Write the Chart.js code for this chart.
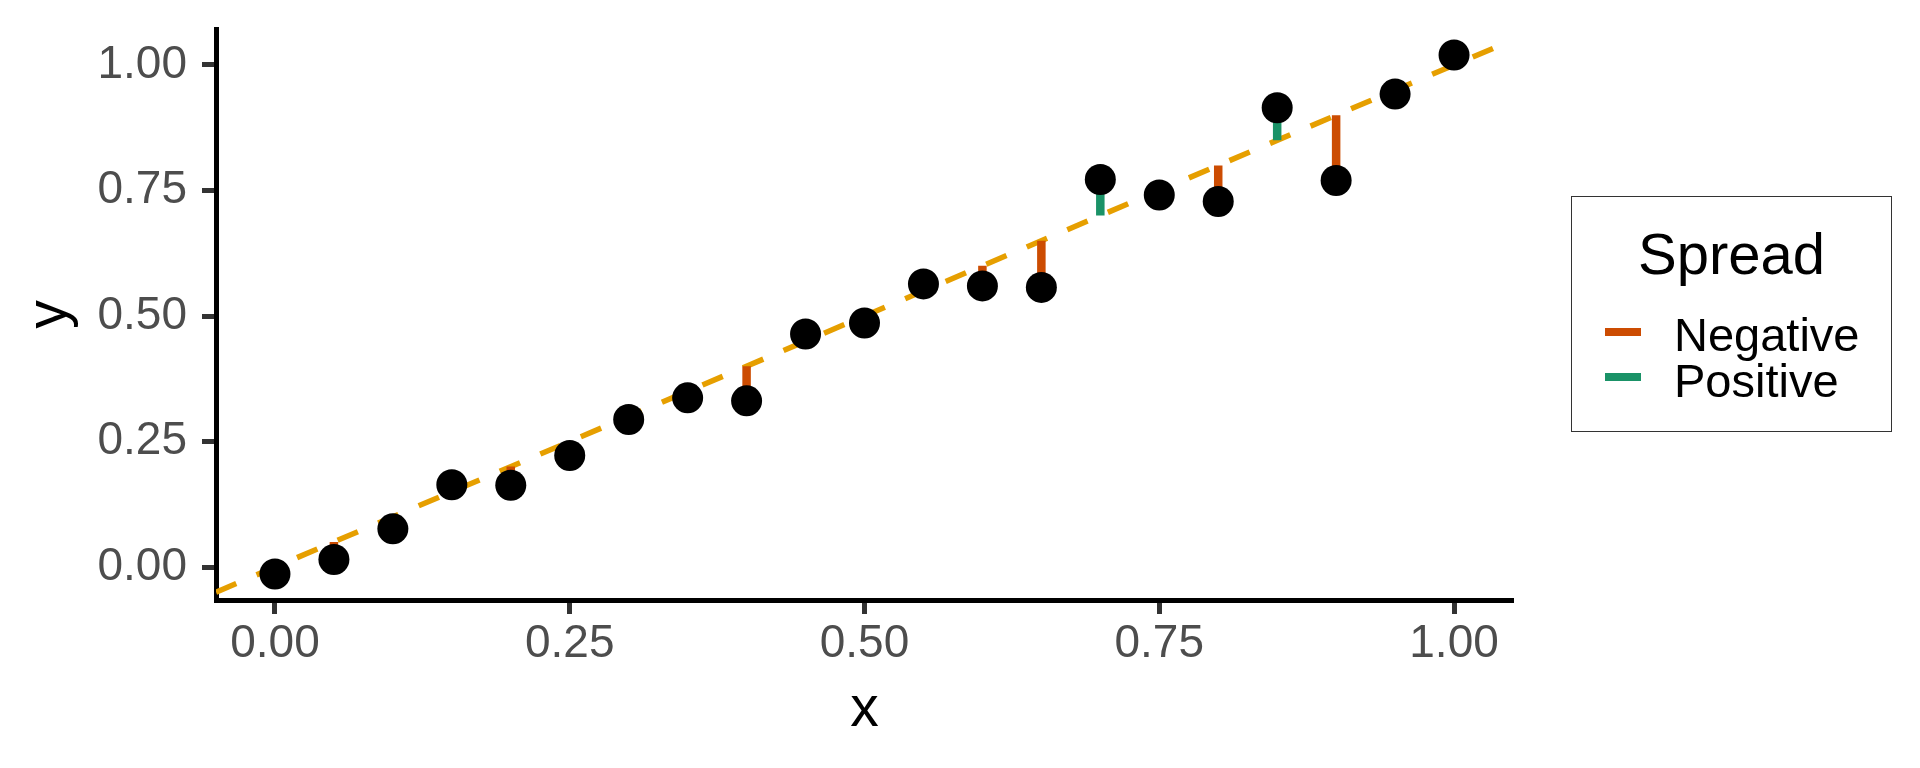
<!DOCTYPE html>
<html>
<head>
<meta charset="utf-8">
<title>Spread</title>
<script src="https://cdn.jsdelivr.net/npm/chart.js@4.4.1/dist/chart.umd.min.js"></script>
<style>
  html, body { margin: 0; padding: 0; background: #fff; }
  #wrap { position: relative; width: 1920px; height: 768px; font-family: 'Liberation Sans', Arial, sans-serif; }
  #legend { position: absolute; left: 1571px; top: 196px; width: 321px; height: 236px; box-sizing: border-box; border: 1.5px solid #333; }
  #legend .title { position: absolute; left: 0; right: 0; top: 28px; text-align: center; font-size: 58px; line-height: 58px; color: #000; }
  #legend .item { position: absolute; left: 0; right: 0; height: 46px; }
  #legend .key { position: absolute; left: 33px; width: 36px; height: 8px; }
  #legend .label { position: absolute; left: 102px; top: 0; font-size: 47px; line-height: 47px; color: #000; white-space: nowrap; }
</style>
</head>
<body>
<div id="wrap">
  <canvas id="spreadChart" width="1920" height="768"></canvas>
  <div id="legend"></div>
</div>
<script>
// data
const xValues = [0, 0.05, 0.10, 0.15, 0.20, 0.25, 0.30, 0.35, 0.40, 0.45, 0.50,
                 0.55, 0.60, 0.65, 0.70, 0.75, 0.80, 0.85, 0.90, 0.95, 1.00];
const yValues = [-0.014, 0.015, 0.076, 0.164, 0.163, 0.222, 0.294, 0.337, 0.331, 0.464, 0.486,
                 0.564, 0.560, 0.557, 0.772, 0.741, 0.728, 0.915, 0.770, 0.942, 1.020];
const xTicks = [0, 0.25, 0.5, 0.75, 1];
const yTicks = [0, 0.25, 0.5, 0.75, 1];
const spreadLabels = ['Negative', 'Positive'];
const spreadColors = ['#CC4C02', '#1A9267'];
const refIntercept = 0;
const refSlope = 1;

const FONT = "'Liberation Sans', Arial, sans-serif";

// ggplot-style 5% expansion of the data range
function expand(vals) {
  const lo = Math.min(...vals), hi = Math.max(...vals);
  const pad = (hi - lo) * 0.05;
  return [lo - pad, hi + pad];
}
const xLim = expand(xValues);
const yLim = expand(yValues);

function fitAt(x) { return refIntercept + refSlope * x; }

// vertical segments from the reference line to each point, split by sign
function segmentData(label) {
  const pts = [];
  xValues.forEach((x, i) => {
    const f = fitAt(x);
    const sign = yValues[i] >= f ? 'Positive' : 'Negative';
    if (sign !== label) return;
    pts.push({ x: x, y: f }, { x: x, y: yValues[i] }, { x: x, y: null });
  });
  return pts;
}

const segmentSets = spreadLabels.map((label, k) => ({
  type: 'line',
  label: label,
  data: segmentData(label),
  borderColor: spreadColors[k],
  backgroundColor: spreadColors[k],
  borderWidth: 8.5,
  pointRadius: 0,
  spanGaps: false,
  fill: false,
  order: 1
}));

const chart = new Chart(document.getElementById('spreadChart'), {
  type: 'scatter',
  data: {
    datasets: [
      {
        label: 'points',
        data: xValues.map((x, i) => ({ x: x, y: yValues[i] })),
        backgroundColor: '#000',
        borderWidth: 0,
        pointRadius: 15.5,
        pointHoverRadius: 15.5,
        order: 0
      },
      ...segmentSets,
      {
        type: 'line',
        label: 'reference',
        data: [{ x: xLim[0], y: fitAt(xLim[0]) }, { x: xLim[1], y: fitAt(xLim[1]) }],
        borderColor: '#E69F00',
        borderWidth: 5.5,
        borderDash: [22.03, 22.03],
        pointRadius: 0,
        fill: false,
        clip: 0,
        order: 2
      }
    ]
  },
  options: {
    responsive: false,
    animation: false,
    devicePixelRatio: 1,
    events: [],
    layout: { autoPadding: false, padding: { top: 29, right: 407, left: 0, bottom: 0 } },
    plugins: {
      legend: { display: false },
      tooltip: { enabled: false }
    },
    scales: {
      x: {
        type: 'linear',
        min: xLim[0],
        max: xLim[1],
        afterBuildTicks: ax => { ax.ticks = xTicks.map(v => ({ value: v })); },
        afterFit: ax => { ax.height = 168; ax.paddingLeft = 0; ax.paddingRight = 0; },
        grid: { drawOnChartArea: false, drawTicks: true, tickLength: 14, tickWidth: 5, tickColor: '#333' },
        border: { display: true, color: '#000', width: 5 },
        ticks: {
          padding: 7.5, color: '#4D4D4D', maxRotation: 0, autoSkip: false,
          font: { family: FONT, size: 46, lineHeight: 1 },
          callback: v => v.toFixed(2)
        },
        title: {
          display: true, text: 'x', color: '#000',
          font: { family: FONT, size: 57, lineHeight: 1 },
          padding: { top: 0, bottom: 29 }
        }
      },
      y: {
        type: 'linear',
        min: yLim[0],
        max: yLim[1],
        afterBuildTicks: ax => { ax.ticks = yTicks.map(v => ({ value: v })); },
        afterFit: ax => { ax.width = 216; ax.paddingTop = 0; ax.paddingBottom = 0; },
        grid: { drawOnChartArea: false, drawTicks: true, tickLength: 14, tickWidth: 5, tickColor: '#333' },
        border: { display: true, color: '#000', width: 5 },
        ticks: {
          padding: 15, color: '#4D4D4D', autoSkip: false,
          font: { family: FONT, size: 46, lineHeight: 1 },
          callback: v => v.toFixed(2)
        },
        title: {
          display: true, text: 'y', color: '#000',
          font: { family: FONT, size: 57, lineHeight: 1 },
          padding: { top: 22, bottom: 0 }
        }
      }
    }
  }
});

// legend box, built from the segment datasets
function buildLegend() {
  const box = document.getElementById('legend');
  let html = '<div class="title">Spread</div>';
  segmentSets.forEach((ds, i) => {
    html += `<div class="item" style="top:${114 + i * 45.5}px">
      <div class="key" style="top:${17 - 0.5 * i}px;background:${ds.borderColor}"></div>
      <div class="label">${ds.label}</div>
    </div>`;
  });
  box.innerHTML = html;
}
buildLegend();
</script>
</body>
</html>
